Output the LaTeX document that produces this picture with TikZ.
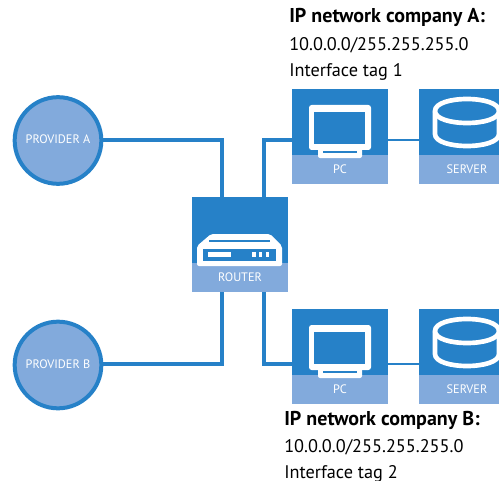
\documentclass[tikz,border=0pt]{standalone}
\usepackage{fontspec}
\setmainfont{PT Sans}
\definecolor{netblue}{HTML}{2681C8}
\definecolor{netband}{HTML}{82AADC}
\tikzset{
  devbox/.style={rectangle,fill=netblue,inner sep=0pt,minimum width=72pt,minimum height=71.5pt},
  devband/.style={rectangle,fill=netband,text=white,inner sep=0pt,minimum width=72pt,minimum height=21.75pt,font=\fontsize{9.2}{9.2}\selectfont},
  provider/.style={circle,draw=netblue,fill=netband,line width=3pt,text=white,inner sep=0pt,minimum size=65pt,font=\fontsize{9.2}{9.2}\selectfont},
  headline/.style={anchor=base west,inner sep=0pt,font=\fontsize{15}{15}\selectfont\bfseries},
  infoline/.style={anchor=base west,inner sep=0pt,font=\fontsize{13.7}{13.7}\selectfont},
  link/.style={draw=netblue,line width=3pt},
  thinlink/.style={draw=netblue,line width=2.2pt},
  icon/.style={draw=white,line width=3.5pt,fill=netblue}
}
\begin{document}
\begin{tikzpicture}[x=0.75pt,y=-0.75pt]
\useasboundingbox (0,0) rectangle (499,481);
\clip (0,0) rectangle (499,481);
% connection points
\coordinate (rtop1) at (222,197);
\coordinate (rtop2) at (264,197);
\coordinate (rbot1) at (222,292);
\coordinate (rbot2) at (264,292);
\coordinate (pcin1) at (292,140);
\coordinate (pcin2) at (292,364);
\coordinate (pcout1) at (388,140);
\coordinate (pcout2) at (388,364);
\coordinate (srvin1) at (419,140);
\coordinate (srvin2) at (419,364);
% connectors go under the boxes
\node[provider] (provA) at (58,140.5) {\raisebox{1.5pt}{PROVIDER A}};
\node[provider] (provB) at (58,365) {\raisebox{1pt}{PROVIDER B}};
\draw[link] (provA.east) -| (rtop1);
\draw[link] (provB.east |- pcin2) -| (rbot1);
\draw[link] (pcin1) -| (rtop2);
\draw[link] (pcin2) -| (rbot2);
\draw[thinlink] (pcout1) -- (srvin1);
\draw[thinlink] (pcout2) -- (srvin2);
\node[devbox] (router) at (240,244.5) {};
\node[devband] (routerband) at (240,277.5) {ROUTER};
\node[devbox] (pcA) at (340,136.5) {};
\node[devband] (pcAband) at (340,169.5) {PC};
\node[devbox] (srvA) at (467,136.5) {};
\node[devband] (srvAband) at (467,169.5) {SERVER};
\node[devbox] (pcB) at (340,356.5) {};
\node[devband] (pcBband) at (340,389.5) {PC};
\node[devbox] (srvB) at (467,356.5) {};
\node[devband] (srvBband) at (467,389.5) {SERVER};
% monitor and disk icons
\foreach \dy in {0,220} {
  \begin{scope}[yshift=-0.75pt*\dy]
    \fill[white,rounded corners=2pt] (309,105) rectangle (371,150);
    \fill[netblue] (314,112) rectangle (365,144);
    \fill[white,rounded corners=1.5pt] (318,148) rectangle (362,158);
    \draw[netblue,line width=1.5pt] (323,152) -- (357,152);
    \draw[icon] (435,134) -- (435,111) .. controls (435,95) and (499,95) .. (499,111)
      -- (499,134) .. controls (499,150) and (435,150) .. cycle;
    \draw[icon] (435,111) .. controls (435,127) and (499,127) .. (499,111);
  \end{scope}
}
% router icon
\fill[white,rounded corners=1.5pt] (197,266) -- (197,246) -- (211,234) -- (270,234) -- (282,246) -- (282,266) -- cycle;
\draw[netblue,line width=0.9pt] (209,241) -- (270,241);
\fill[netblue] (203,249) rectangle (276,261);
\fill[white] (208,252) rectangle (231,257);
\fill[white] (252,252) rectangle (256,257);
\fill[white] (259,252) rectangle (262,257);
\fill[white] (266,252) rectangle (269,257);
% network texts
\node[headline] (headA) at (289,23) {IP network company A:};
\node[infoline] (addrA) at (289,51) {10.0.0.0/255.255.255.0};
\node[infoline] (tagA) at (289,77) {Interface tag 1};
\node[headline] (headB) at (284,425) {IP network company B:};
\node[infoline] (addrB) at (284,452) {10.0.0.0/255.255.255.0};
\node[infoline] (tagB) at (284,478) {Interface tag 2};
\end{tikzpicture}
\end{document}
